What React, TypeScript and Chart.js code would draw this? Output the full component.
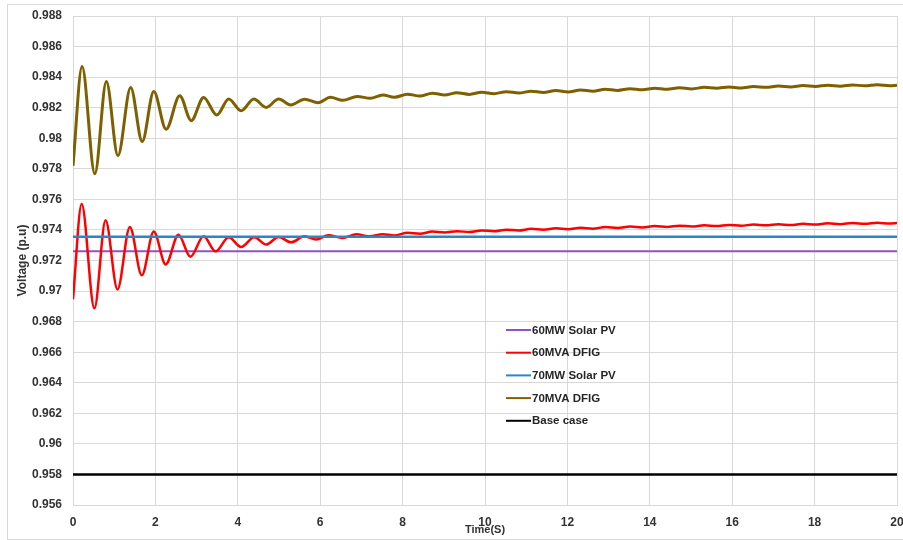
import React, { useEffect, useRef } from "react";
import { Chart, registerables } from "chart.js";

Chart.register(...registerables);

// ---------- data ----------
const SERIES_NAMES = ["60MW Solar PV", "60MVA DFIG", "70MW Solar PV", "70MVA DFIG", "Base case"];
const SERIES_COLORS = ["#8B55C5", "#FF0000", "#2F84C8", "#7F6000", "#000000"];

const X_MIN = 0;
const X_MAX = 20;
const X_STEP = 2;
const Y_MIN = 0.956;
const Y_MAX = 0.988;
const Y_STEP = 0.002;

const solar60Time = [0, 20];
const solar60Volt = [0.97261, 0.97261];

const solar70Time = [0, 20];
const solar70Volt = [0.97356, 0.97356];

const baseTime = [0, 20];
const baseVolt = [0.958, 0.958];

const dfig60Time = [
  0, 0.21, 0.52, 0.79, 1.08, 1.38, 1.67, 1.96, 2.25, 2.56, 2.85, 3.17, 3.46, 3.78, 4.08, 4.4, 4.69, 4.99, 5.29,
  5.62, 5.9, 6.2, 6.54, 6.88, 7.2, 7.52, 7.8, 8.12, 8.42, 8.72, 9.02, 9.32, 9.62, 9.92, 10.22, 10.52, 10.82,
  11.12, 11.42, 11.72, 12.02, 12.32, 12.62, 12.92, 13.22, 13.52, 13.82, 14.12, 14.42, 14.72, 15.02, 15.32, 15.62,
  15.92, 16.22, 16.52, 16.82, 17.12, 17.42, 17.72, 18.02, 18.32, 18.62, 18.92, 19.22, 19.52, 19.82, 20,
];
const dfig60Volt = [
  0.96946, 0.97569, 0.96887, 0.97463, 0.97011, 0.9742, 0.97103, 0.97389, 0.97174, 0.97369, 0.97224, 0.97358,
  0.9726, 0.97352, 0.97289, 0.97352, 0.97304, 0.97354, 0.97319, 0.97358, 0.97337, 0.97365, 0.97348, 0.97371,
  0.97358, 0.97372, 0.97364, 0.97381, 0.97375, 0.97389, 0.97383, 0.97392, 0.97386, 0.97397, 0.97391, 0.97402,
  0.97396, 0.97407, 0.97401, 0.97411, 0.97405, 0.97414, 0.97408, 0.97419, 0.97413, 0.97422, 0.97416, 0.97425,
  0.97419, 0.97428, 0.97422, 0.9743, 0.97425, 0.97433, 0.97428, 0.97435, 0.9743, 0.97437, 0.97432, 0.9744,
  0.97435, 0.97443, 0.97438, 0.97445, 0.9744, 0.97447, 0.97442, 0.97446,
];

const dfig70Time = [
  0, 0.22, 0.53, 0.81, 1.09, 1.4, 1.68, 1.96, 2.26, 2.59, 2.87, 3.17, 3.49, 3.78, 4.08, 4.39, 4.69, 4.99, 5.29,
  5.62, 5.95, 6.25, 6.55, 6.9, 7.22, 7.52, 7.8, 8.12, 8.42, 8.72, 9.02, 9.32, 9.62, 9.92, 10.22, 10.52, 10.82,
  11.12, 11.42, 11.72, 12.02, 12.32, 12.62, 12.92, 13.22, 13.52, 13.82, 14.12, 14.42, 14.72, 15.02, 15.32, 15.62,
  15.92, 16.22, 16.52, 16.82, 17.12, 17.42, 17.72, 18.02, 18.32, 18.62, 18.92, 19.22, 19.52, 19.82, 20,
];
const dfig70Volt = [
  0.9782, 0.98469, 0.97767, 0.98371, 0.97886, 0.98332, 0.97978, 0.98306, 0.98059, 0.98278, 0.98115, 0.98267,
  0.98152, 0.98257, 0.9818, 0.98257, 0.98202, 0.98257, 0.98218, 0.98256, 0.98233, 0.98268, 0.98248, 0.98274,
  0.98261, 0.98283, 0.98268, 0.98288, 0.98276, 0.98295, 0.98283, 0.98298, 0.98287, 0.98301, 0.98292, 0.98305,
  0.98296, 0.98308, 0.983, 0.98312, 0.98303, 0.98316, 0.98308, 0.98321, 0.98313, 0.98324, 0.98317, 0.98327,
  0.9832, 0.9833, 0.98323, 0.98333, 0.98327, 0.98336, 0.98329, 0.98339, 0.98333, 0.98342, 0.98336, 0.98345,
  0.98339, 0.98347, 0.98341, 0.98349, 0.98343, 0.9835, 0.98344, 0.98347,
];

const X_TITLE = "Time(S)";
const Y_TITLE = "Voltage (p.u)";

// ---------- helpers ----------
const toPoints = (xs: number[], ys: number[]) => xs.map((x, i) => ({ x, y: ys[i] }));

const FONT_FAMILY = '"Liberation Sans", Arial, sans-serif';
const TEXT_COLOR = "#333333";
const GRID_COLOR = "#D9D9D9";

const insideLegend = {
  id: "insideLegend",
  afterDraw(chart: any) {
    const { ctx, chartArea } = chart;
    const x0 = chartArea.left + 433;
    const y0 = chartArea.top + 314;
    const gap = 22.7;
    ctx.save();
    ctx.font = `bold 11.5px ${FONT_FAMILY}`;
    ctx.textBaseline = "middle";
    ctx.textAlign = "left";
    chart.data.datasets.forEach((ds: any, i: number) => {
      const y = y0 + i * gap;
      ctx.strokeStyle = ds.borderColor;
      ctx.lineWidth = 2;
      ctx.beginPath();
      ctx.moveTo(x0, y);
      ctx.lineTo(x0 + 25, y);
      ctx.stroke();
      ctx.fillStyle = "#262626";
      ctx.fillText(ds.label, x0 + 26, y + 0.5);
    });
    ctx.restore();
  },
};

export default function App() {
  const canvasRef = useRef<HTMLCanvasElement | null>(null);

  useEffect(() => {
    document.body.style.margin = "0";
    const canvas = canvasRef.current;
    if (!canvas) return;

    const seriesData = [
      toPoints(solar60Time, solar60Volt),
      toPoints(dfig60Time, dfig60Volt),
      toPoints(solar70Time, solar70Volt),
      toPoints(dfig70Time, dfig70Volt),
      toPoints(baseTime, baseVolt),
    ];
    const widths = [2, 2.5, 2.5, 3, 2.5];
    const orders = [5, 4, 3, 2, 1];

    const chart = new Chart(canvas, {
      type: "line",
      data: {
        datasets: seriesData.map((d, i) => ({
          label: SERIES_NAMES[i],
          data: d,
          borderColor: SERIES_COLORS[i],
          backgroundColor: SERIES_COLORS[i],
          borderWidth: widths[i],
          pointRadius: 0,
          fill: false,
          cubicInterpolationMode: "monotone" as const,
          order: orders[i],
        })),
      },
      options: {
        responsive: false,
        animation: false,
        devicePixelRatio: 1,
        layout: { padding: { left: 0, right: 6, top: 16, bottom: 0 } },
        plugins: {
          legend: { display: false },
          tooltip: { enabled: false },
          title: { display: false },
        },
        scales: {
          x: {
            type: "linear",
            min: X_MIN,
            max: X_MAX,
            grid: { color: GRID_COLOR, drawTicks: false, lineWidth: 1 },
            border: { color: GRID_COLOR },
            ticks: {
              stepSize: X_STEP,
              padding: 10,
              color: TEXT_COLOR,
              maxRotation: 0,
              autoSkip: false,
              font: { family: FONT_FAMILY, size: 12, weight: "bold" },
            },
            title: {
              display: true,
              text: X_TITLE,
              color: TEXT_COLOR,
              padding: { top: 0, bottom: 3 },
              font: { family: FONT_FAMILY, size: 11, weight: "bold" },
            },
            afterFit: (scale: any) => {
              scale.height = 35;
              scale.paddingLeft = 0;
              scale.paddingRight = 0;
            },
          },
          y: {
            type: "linear",
            min: Y_MIN,
            max: Y_MAX,
            grid: { color: GRID_COLOR, drawTicks: false, lineWidth: 1 },
            border: { color: GRID_COLOR },
            ticks: {
              stepSize: Y_STEP,
              padding: 11,
              color: TEXT_COLOR,
              autoSkip: false,
              font: { family: FONT_FAMILY, size: 12, weight: "bold" },
              callback: (v: any) => parseFloat(Number(v).toFixed(3)).toString(),
            },
            title: {
              display: true,
              text: Y_TITLE,
              color: TEXT_COLOR,
              padding: { top: 15, bottom: 0 },
              font: { family: FONT_FAMILY, size: 12, weight: "bold" },
            },
            afterFit: (scale: any) => {
              scale.width = 73;
              scale.paddingTop = 0;
              scale.paddingBottom = 0;
            },
          },
        },
      },
      plugins: [insideLegend],
    });

    return () => chart.destroy();
  }, []);

  return (
    <div style={{ position: "relative", width: 903, height: 540, overflow: "hidden", background: "#fff" }}>
      <canvas ref={canvasRef} width={903} height={540} style={{ display: "block", width: 903, height: 540 }} />
      <div
        style={{
          position: "absolute",
          left: 7,
          top: 4,
          width: 1000,
          height: 534,
          border: `1px solid ${GRID_COLOR}`,
          pointerEvents: "none",
        }}
      />
    </div>
  );
}
